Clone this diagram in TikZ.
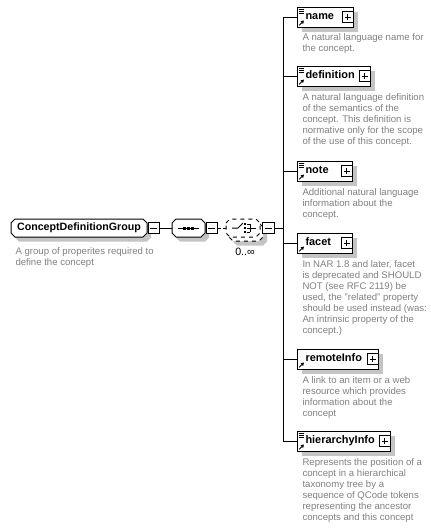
\documentclass[tikz,border=0pt]{standalone}
\usepackage{fontspec}
\setmainfont{Liberation Sans}
\usetikzlibrary{shadows,arrows.meta}

\definecolor{descgray}{RGB}{128,128,128}
\definecolor{shadowgray}{RGB}{196,196,196}

\tikzset{every picture/.style={line width=0.75pt}}
\tikzset{
  boxshadow/.style={drop shadow={shadow xshift=3pt, shadow yshift=-3.5pt, fill=shadowgray, opacity=1}},
  grpnode/.style={rectangle, minimum height=13pt, inner sep=0pt, font=\fontsize{8}{9.6}\selectfont\bfseries},
  grpline/.style={fill=white, line join=miter},
  elembox/.style={draw, fill=white, anchor=west, minimum height=15pt, inner xsep=6pt, inner ysep=0pt, align=left, text height=6pt, text depth=1.8pt, font=\fontsize{8.2}{9.8}\selectfont\bfseries, boxshadow},
  elemref/.style={elembox, path picture={
      \draw[-{Triangle[length=2.4pt,width=2.6pt]}] ([shift={(1.3pt,1.3pt)}]path picture bounding box.south west) -- ++(3.6pt,3.6pt);}},
  elemdoc/.style={elembox, path picture={
      \draw[-{Triangle[length=2.4pt,width=2.6pt]}] ([shift={(1.3pt,1.3pt)}]path picture bounding box.south west) -- ++(3.6pt,3.6pt);
      \foreach \dy in {1.5,3,4.5} \draw ([shift={(0.8pt,-\dy pt)}]path picture bounding box.north west) -- ++(4pt,0);}},
  minusbox/.style={draw, fill=white, minimum size=8.5pt, inner sep=0pt, path picture={
      \draw ([xshift=1.8pt]path picture bounding box.west) -- ([xshift=-1.8pt]path picture bounding box.east);}},
  plusbox/.style={minusbox, path picture={
      \draw ([xshift=1.8pt]path picture bounding box.west) -- ([xshift=-1.8pt]path picture bounding box.east);
      \draw ([yshift=-1.8pt]path picture bounding box.north) -- ([yshift=1.8pt]path picture bounding box.south);}},
  desc/.style={anchor=north west, inner sep=0pt, align=left, text=descgray, font=\fontsize{7.2}{8.25}\selectfont}
}

\begin{document}
\begin{tikzpicture}[x=0.75pt,y=0.75pt,yscale=-1,xscale=1]
\useasboundingbox (0,0) rectangle (430,529);

%Shape: Group [ConceptDefinitionGroup]
\draw [grpline, boxshadow] (11,223) -- (15,219) -- (143,219) -- (147,223) -- (147,233) -- (143,237) -- (15,237) -- (11,233) -- cycle ;
\node[grpnode, minimum width=102pt] (cdg) at (79,228) {ConceptDefinitionGroup};
\node[minusbox, anchor=west] (cdgminus) at (cdg.east) {};
% Text Node
\node[desc] (cdgdesc) at (15,247) {A group of properites required to\\define the concept};

%Shape: Sequence
\draw [grpline, boxshadow] (172,223) -- (176,219) -- (201,219) -- (205,223) -- (205,233) -- (201,237) -- (176,237) -- (172,233) -- cycle ;
\node[grpnode, minimum width=24.75pt] (seq) at (188.5,228) {};
\node[minusbox, anchor=west] (seqminus) at (seq.east) {};
\draw (178,228) -- (199,228) ;
\foreach \dx in {184.5,188.5,192.5} \fill (\dx-1.5,226.5) rectangle ++(3,3) ;

%Shape: Choice (0..unbounded)
\draw [grpline, boxshadow, dashed] (229,227) -- (233,223) -- (259,223) -- (263,227) -- (263,237) -- (259,241) -- (233,241) -- (229,237) -- cycle ;
\draw [grpline, dashed] (226,223) -- (230,219) -- (256,219) -- (260,223) -- (260,233) -- (256,237) -- (230,237) -- (226,233) -- cycle ;
\node[grpnode, minimum width=25.5pt] (choice) at (243,228) {};
\node[minusbox] (choiceminus) at (268.5,228) {};
\draw (232,228) -- (238,228) -- (243,223) ;
\foreach \dy in {224,228,232} {
  \fill (244,\dy-1) rectangle ++(2,2) ;
  \draw (247,\dy) -- (250,\dy) ;
}
\draw (250,224) -- (250,232) ;
\draw (250,228) -- (256,228) ;
% Text Node
\node[font=\fontsize{8}{9.6}\selectfont, inner sep=0pt] (occ) at (245,252) {0..∞};

%Straight Lines
\draw (cdgminus) -- (seq) ;
\draw [dash pattern={on 2.25pt off 1.5pt}] (seqminus) -- (choice) ;
\coordinate (bus) at (283,228) ;
\draw (choiceminus) -- (bus) ;

% Element: name
\node[elemdoc, text width=30pt] (name) at (297,17) {name};
\node[plusbox, anchor=east] (nameplus) at (name.east) {};
\node[desc] (namedesc) at (302,33) {A natural language name for\\the concept.};
% Element: definition
\node[elemdoc, text width=42.75pt] (definition) at (297,76) {definition};
\node[plusbox, anchor=east] (definitionplus) at (definition.east) {};
\node[desc] (definitiondesc) at (302,93) {A natural language definition\\of the semantics of the\\concept. This definition is\\normative only for the scope\\of the use of this concept.};
% Element: note
\node[elemdoc, text width=29.25pt] (note) at (297,171) {note};
\node[plusbox, anchor=east] (noteplus) at (note.east) {};
\node[desc] (notedesc) at (302,188) {Additional natural language\\information about the\\concept.};
% Element: facet
\node[elemref, text width=29.25pt] (facet) at (297,243) {facet};
\node[plusbox, anchor=east] (facetplus) at (facet.east) {};
\node[desc] (facetdesc) at (302,260) {In NAR 1.8 and later, facet\\is deprecated and SHOULD\\NOT (see RFC 2119) be\\used, the "related" property\\should be used instead (was:\\An intrinsic property of the\\concept.)};
% Element: remoteInfo
\node[elemref, text width=48.75pt] (remoteInfo) at (297,359) {remoteInfo};
\node[plusbox, anchor=east] (remoteInfoplus) at (remoteInfo.east) {};
\node[desc] (remoteInfodesc) at (302,376) {A link to an item or a web\\resource which provides\\information about the\\concept};
% Element: hierarchyInfo
\node[elemdoc, text width=57.75pt] (hierarchyInfo) at (297,441) {hierarchyInfo};
\node[plusbox, anchor=east] (hierarchyInfoplus) at (hierarchyInfo.east) {};
\node[desc] (hierarchyInfodesc) at (302,458) {Represents the position of a\\concept in a hierarchical\\taxonomy tree by a\\sequence of QCode tokens\\representing the ancestor\\concepts and this concept};

%Straight Lines
\coordinate (jname) at (283,17) ;
\coordinate (jdefinition) at (283,76) ;
\coordinate (jnote) at (283,171) ;
\coordinate (jfacet) at (283,243) ;
\coordinate (jremoteInfo) at (283,359) ;
\coordinate (jhierarchyInfo) at (283,441) ;
\draw (jname) -- (jhierarchyInfo) ;
\draw (jname) -- (name) ;
\draw (jdefinition) -- (definition) ;
\draw (jnote) -- (note) ;
\draw (jfacet) -- (facet) ;
\draw (jremoteInfo) -- (remoteInfo) ;
\draw (jhierarchyInfo) -- (hierarchyInfo) ;

\end{tikzpicture}
\end{document}
